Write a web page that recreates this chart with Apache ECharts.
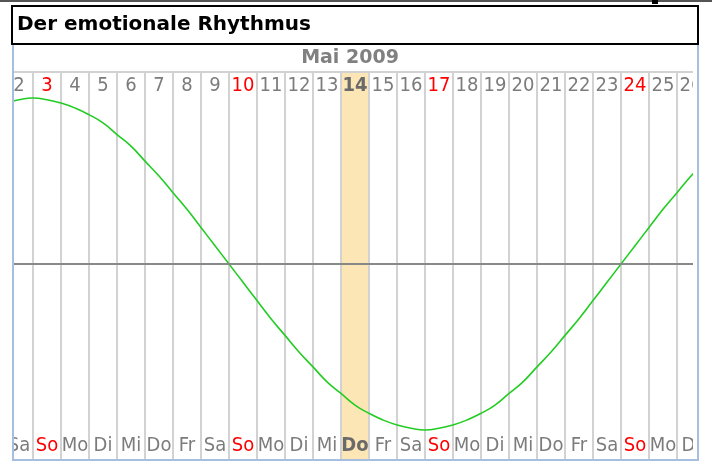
<!DOCTYPE html>
<html>
<head>
<meta charset="utf-8">
<script src="https://cdn.jsdelivr.net/npm/echarts@6/dist/echarts.min.js"></script>
<style>
  html, body { margin: 0; padding: 0; background: #fff; }
  #chart { width: 712px; height: 461px; }
</style>
</head>
<body>
<div id="chart"></div>
<script>
const chartTitle = 'Der emotionale Rhythmus';
const monthLabel = 'Mai 2009';

// visible columns (day of month + weekday)
const days = ['2', '3', '4', '5', '6', '7', '8', '9', '10', '11', '12', '13', '14',
  '15', '16', '17', '18', '19', '20', '21', '22', '23', '24', '25', '26'];
const weekdays = ['Sa', 'So', 'Mo', 'Di', 'Mi', 'Do', 'Fr', 'Sa', 'So', 'Mo', 'Di', 'Mi', 'Do',
  'Fr', 'Sa', 'So', 'Mo', 'Di', 'Mi', 'Do', 'Fr', 'Sa', 'So', 'Mo', 'Di'];
const today = '14';

// emotional rhythm every half day (-100..100)
const curveDays = [1, 1.5, 2, 2.5, 3, 3.5, 4, 4.5, 5, 5.5, 6, 6.5, 7, 7.5, 8, 8.5, 9, 9.5,
  10, 10.5, 11, 11.5, 12, 12.5, 13, 13.5, 14, 14.5, 15, 15.5, 16, 16.5, 17, 17.5, 18, 18.5,
  19, 19.5, 20, 20.5, 21, 21.5, 22, 22.5, 23, 23.5, 24, 24.5, 25, 25.5, 26, 26.5, 27];
const emotion = [94, 97, 99, 100, 99, 97, 94, 90, 85, 78, 71, 62, 53, 43, 33, 22, 11, 0,
  -11, -22, -33, -43, -53, -62, -71, -78, -85, -90, -94, -97, -99, -100, -99, -97, -94, -90,
  -85, -78, -71, -62, -53, -43, -33, -22, -11, 0, 11, 22, 33, 43, 53, 62, 71];

const labelFont = "'DejaVu Sans Condensed', 'Liberation Sans', sans-serif";
const gridLeft = 5, gridTop = 72, cellW = 28;

const chart = echarts.init(document.getElementById('chart'));

const rich = {
  n: { color: '#7c7c7c', fontSize: 20, fontFamily: labelFont },
  sun: { color: '#ff0000', fontSize: 20, fontFamily: labelFont },
  hl: { color: '#6a6a6a', fontSize: 20, fontFamily: labelFont, fontWeight: 'bold' }
};

const option = {
  animation: false,
  grid: {
    left: gridLeft,
    top: gridTop,
    width: days.length * cellW,
    height: 387,
    outerBoundsMode: 'none'
  },
  xAxis: [
    {
      // day numbers along the top
      type: 'category',
      position: 'top',
      data: days,
      axisLine: { onZero: false, lineStyle: { color: '#d2d2d2', width: 2 } },
      axisTick: { show: false },
      splitLine: { show: false },
      axisLabel: {
        inside: true,
        interval: 0,
        margin: 4,
        fontSize: 20,
        fontFamily: labelFont,
        formatter: (v, i) => {
          if (v === today) return `{hl|${v}}`;
          return weekdays[i] === 'So' ? `{sun|${v}}` : `{n|${v}}`;
        },
        rich
      }
    },
    {
      // weekday names along the bottom
      type: 'category',
      position: 'bottom',
      data: weekdays,
      axisLine: { show: false, onZero: false },
      axisTick: { show: false },
      splitLine: { show: true, interval: 0, lineStyle: { color: '#d2d2d2', width: 2 } },
      axisLabel: {
        inside: true,
        interval: 0,
        margin: 3,
        fontSize: 20,
        fontFamily: labelFont,
        formatter: (v, i) => {
          if (days[i] === today) return `{hl|${v}}`;
          return v === 'So' ? `{sun|${v}}` : `{n|${v}}`;
        },
        rich
      }
    },
    {
      type: 'value',
      show: false,
      min: Number(days[0]) - 0.5,
      max: Number(days[days.length - 1]) + 0.5
    }
  ],
  yAxis: [
    { type: 'value', show: false, min: -117.5, max: 115.7 },
    { type: 'value', show: false, min: 0, max: 1 }
  ],
  series: [
    {
      name: 'heute',
      type: 'bar',
      xAxisIndex: 0,
      yAxisIndex: 1,
      z: -1,
      silent: true,
      barWidth: '100%',
      itemStyle: { color: '#fde6b6' },
      data: days.map(d => (d === today ? 1 : '-'))
    },
    {
      name: 'emotional',
      type: 'line',
      xAxisIndex: 2,
      yAxisIndex: 0,
      smooth: true,
      showSymbol: false,
      silent: true,
      lineStyle: { color: '#22cc22', width: 1.6 },
      data: curveDays.map((d, i) => [d, emotion[i]]),
      markLine: {
        silent: true,
        symbol: 'none',
        label: { show: false },
        lineStyle: { color: '#888888', width: 2, type: 'solid' },
        data: [{ yAxis: 0 }]
      }
    }
  ],
  graphic: [
    // thin strip of window frame at the very top
    { type: 'rect', z: 100, shape: { x: 0, y: 0, width: 712, height: 2 }, style: { fill: '#555' } },
    { type: 'rect', z: 100, shape: { x: 652, y: 0, width: 6, height: 4 }, style: { fill: '#000' } },
    // white masks clip the plot to the frame
    { type: 'rect', z: 100, shape: { x: 0, y: 60, width: 13, height: 401 }, style: { fill: '#fff' } },
    { type: 'rect', z: 100, shape: { x: 693, y: 60, width: 19, height: 401 }, style: { fill: '#fff' } },
    // light blue frame
    { type: 'line', z: 101, shape: { x1: 13, y1: 44, x2: 13, y2: 461 }, style: { stroke: '#a6bedf', lineWidth: 2 } },
    { type: 'line', z: 101, shape: { x1: 698, y1: 44, x2: 698, y2: 461 }, style: { stroke: '#a6bedf', lineWidth: 2 } },
    { type: 'line', z: 101, shape: { x1: 12, y1: 460, x2: 699, y2: 460 }, style: { stroke: '#a6bedf', lineWidth: 2 } },
    // title box
    { type: 'rect', z: 102, shape: { x: 12, y: 6, width: 686, height: 38 }, style: { fill: '#fff', stroke: '#000', lineWidth: 2 } },
    {
      type: 'text', z: 103, x: 17, y: 25,
      style: { text: chartTitle, fill: '#000', font: "bold 20px 'DejaVu Sans', sans-serif", verticalAlign: 'middle' }
    },
    {
      type: 'text', z: 103, x: 350, y: 58,
      style: { text: monthLabel, fill: '#808080', font: "bold 19px 'DejaVu Sans', sans-serif", align: 'center', verticalAlign: 'middle' }
    }
  ]
};

chart.setOption(option);
</script>
</body>
</html>
